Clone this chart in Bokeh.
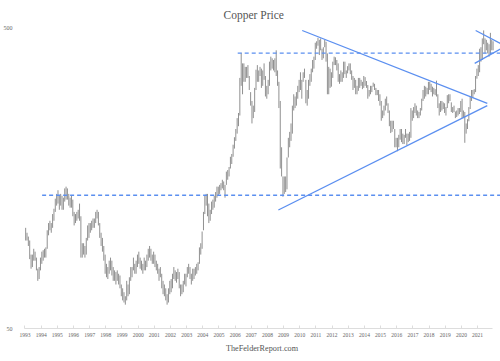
import numpy as np
from bokeh.plotting import figure
from bokeh.models import Range1d, FixedTicker, NumeralTickFormatter, Title
from bokeh.embed import file_html
from bokeh.resources import INLINE

# ---------------- data (cents per lb, monthly high / low) ----------------
start_year = 1993
monthly_high = [
    108, 104, 101, 98, 88, 88, 92, 90, 86, 79, 80, 86,          # 1993
    90, 91, 92, 93, 106, 112, 114, 112, 120, 125, 135, 140,     # 1994
    144, 138, 140, 138, 136, 146, 148, 146, 140, 136, 138, 134, # 1995
    122, 120, 122, 124, 130, 118, 96, 96, 94, 100, 110, 112,    # 1996
    112, 114, 116, 116, 122, 124, 122, 112, 104, 100, 94, 88,   # 1997
    82, 80, 84, 86, 84, 80, 78, 77, 78, 76, 75, 70,             # 1998
    68, 66, 64, 72, 70, 74, 80, 80, 86, 82, 84, 88,             # 1999
    90, 86, 84, 82, 86, 84, 88, 92, 94, 92, 88, 90,             # 2000
    88, 84, 82, 79, 80, 76, 72, 70, 68, 65, 68, 72,             # 2001
    73, 76, 80, 78, 77, 79, 77, 70, 70, 72, 76, 76,             # 2002
    80, 82, 80, 76, 79, 79, 80, 82, 83, 93, 96, 105,            # 2003
    122, 138, 140, 140, 130, 124, 132, 134, 138, 142, 148, 148, # 2004
    150, 152, 156, 154, 150, 166, 168, 172, 186, 190, 204, 216, # 2005
    230, 250, 260, 340, 412, 380, 380, 370, 370, 375, 345, 305, # 2006
    285, 275, 315, 362, 375, 360, 370, 365, 360, 380, 345, 320, # 2007
    335, 385, 400, 395, 390, 395, 420, 360, 330, 285, 200, 160, # 2008
    160, 160, 185, 215, 225, 240, 275, 300, 295, 305, 320, 335, # 2009
    355, 335, 355, 365, 335, 310, 335, 350, 365, 390, 400, 445, # 2010
    450, 462, 455, 460, 425, 430, 455, 448, 410, 370, 365, 355, # 2011
    385, 400, 398, 390, 380, 350, 360, 355, 385, 385, 360, 372, # 2012
    380, 380, 360, 345, 340, 335, 320, 340, 340, 335, 330, 345, # 2013
    342, 332, 322, 310, 320, 320, 328, 325, 315, 310, 310, 300, # 2014
    285, 265, 275, 290, 295, 280, 265, 245, 245, 245, 230, 215, # 2015
    215, 220, 230, 230, 222, 220, 230, 222, 222, 225, 270, 265, # 2016
    272, 280, 275, 265, 262, 270, 290, 310, 320, 318, 315, 330, # 2017
    330, 325, 318, 315, 312, 333, 300, 280, 285, 285, 282, 280, # 2018
    272, 298, 300, 300, 282, 272, 275, 263, 265, 270, 270, 285, # 2019
    290, 265, 262, 240, 248, 272, 295, 310, 310, 312, 345, 365, # 2020
    375, 425, 430, 460, 489, 460, 455, 445, 440, 480, 455, 450, # 2021
]
monthly_low = [
    98, 98, 94, 85, 79, 80, 84, 84, 78, 72, 73, 78,             # 1993
    82, 84, 86, 86, 92, 102, 106, 104, 108, 114, 122, 128,      # 1994
    130, 124, 128, 124, 124, 132, 134, 134, 128, 126, 126, 118, # 1995
    110, 112, 114, 116, 114, 86, 86, 88, 86, 88, 98, 100,       # 1996
    104, 106, 108, 108, 112, 116, 110, 100, 94, 90, 84, 76,     # 1997
    74, 73, 76, 78, 75, 72, 72, 70, 72, 70, 68, 64,             # 1998
    62, 61, 60, 62, 64, 65, 72, 74, 78, 76, 76, 80,             # 1999
    82, 79, 78, 76, 78, 78, 80, 84, 86, 84, 82, 82,             # 2000
    80, 78, 76, 72, 74, 68, 65, 64, 62, 60, 61, 65,             # 2001
    66, 68, 73, 72, 71, 73, 68, 64, 65, 66, 70, 69,             # 2002
    74, 76, 73, 70, 72, 73, 75, 76, 78, 82, 88, 92,             # 2003
    106, 120, 128, 118, 112, 114, 120, 124, 126, 132, 136, 138, # 2004
    140, 144, 146, 144, 136, 150, 156, 160, 170, 176, 186, 198, # 2005
    210, 222, 235, 255, 320, 300, 330, 330, 340, 340, 310, 275, # 2006
    240, 250, 262, 310, 330, 330, 345, 315, 320, 335, 295, 290, # 2007
    300, 320, 360, 365, 360, 355, 345, 320, 270, 170, 160, 137, # 2008
    140, 142, 145, 185, 200, 210, 222, 265, 270, 275, 290, 305, # 2009
    310, 290, 330, 340, 280, 275, 290, 320, 330, 355, 365, 390, # 2010
    425, 435, 405, 420, 390, 395, 430, 385, 300, 300, 315, 318, # 2011
    340, 375, 375, 360, 330, 325, 330, 330, 340, 350, 340, 352, # 2012
    360, 350, 335, 310, 315, 300, 300, 308, 315, 320, 312, 315, # 2013
    320, 315, 290, 295, 300, 305, 318, 310, 298, 298, 285, 275, # 2014
    245, 250, 255, 265, 275, 260, 235, 223, 225, 230, 200, 200, # 2015
    194, 200, 212, 208, 205, 205, 215, 203, 208, 210, 215, 245, # 2016
    250, 260, 255, 250, 250, 255, 265, 285, 290, 295, 300, 300, # 2017
    310, 305, 295, 300, 298, 295, 270, 255, 262, 265, 268, 260, # 2018
    255, 270, 280, 285, 262, 260, 262, 250, 252, 255, 258, 262, # 2019
    250, 250, 207, 222, 230, 244, 268, 285, 292, 300, 305, 338, # 2020
    345, 355, 385, 390, 440, 410, 420, 410, 400, 405, 420, 420, # 2021
]
year_ticks = list(range(1993, 2022))
price_ticks = [50, 500]

# horizontal levels (dashed)
resistance_level = 411
resistance_from = 2006.16
support_level = 138.5
support_from = 1994.06
chart_start = 1992.908
chart_end = 2022.417

# trend lines: (dates, prices)
falling_line_t = [2010.15, 2021.60]
falling_line_v = [488.6, 280.0]
rising_line_t = [2008.675, 2021.60]
rising_line_v = [123.8, 275.0]
pennant_top_t = [2020.88, 2022.417]
pennant_top_v = [488.6, 442.0]
pennant_bottom_t = [2020.82, 2022.417]
pennant_bottom_v = [380.0, 424.0]

# ---------------- figure ----------------
t = start_year + (np.arange(len(monthly_high)) + 0.5) / 12.0
serif = "Liberation Serif"

p = figure(width=500, height=361,
           x_range=Range1d(chart_start, chart_end), y_range=Range1d(50, 500),
           y_axis_type="log", output_backend="svg", toolbar_location=None,
           min_border_left=19, min_border_right=0, min_border_top=27, min_border_bottom=33)
p.title = Title(text="Copper Price", align="left", offset=200, standoff=13,
                text_font=serif, text_font_size="11.5px", text_font_style="normal",
                text_color="#555555")
p.grid.visible = False
p.outline_line_color = None
p.background_fill_color = "white"
p.border_fill_color = "white"

p.xaxis.ticker = FixedTicker(ticks=year_ticks)
p.xaxis.bounds = (1993.0, 2021.9)
p.xaxis.axis_line_color = "#dddddd"
p.xaxis.major_tick_line_color = "#dddddd"
p.xaxis.major_tick_in = 3
p.xaxis.major_tick_out = 0
p.xaxis.minor_tick_line_color = None
p.xaxis.major_label_standoff = 4
p.xaxis.major_label_text_font = serif
p.xaxis.major_label_text_font_size = "5.5px"
p.xaxis.major_label_text_color = "#666666"
p.xaxis.axis_label = "TheFelderReport.com"
p.xaxis.axis_label_standoff = 4
p.xaxis.axis_label_text_font = serif
p.xaxis.axis_label_text_font_size = "8.2px"
p.xaxis.axis_label_text_font_style = "normal"
p.xaxis.axis_label_text_color = "#555555"

p.yaxis.ticker = FixedTicker(ticks=price_ticks)
p.yaxis.formatter = NumeralTickFormatter(format="0")
p.yaxis.axis_line_color = None
p.yaxis.major_tick_line_color = None
p.yaxis.minor_tick_line_color = None
p.yaxis.major_label_standoff = 5
p.yaxis.major_label_text_font = serif
p.yaxis.major_label_text_font_size = "6px"
p.yaxis.major_label_text_color = "#666666"

# price bars
p.segment(x0=t, y0=monthly_low, x1=t, y1=monthly_high, line_color="#909090", line_width=1)

blue = "#5b8ff0"
p.line([resistance_from, chart_end], [resistance_level, resistance_level],
       line_color=blue, line_width=1.4, line_dash="4 3")
p.line([support_from, chart_end], [support_level, support_level],
       line_color=blue, line_width=1.4, line_dash="4 3")
for xs, ys in [(falling_line_t, falling_line_v), (rising_line_t, rising_line_v),
               (pennant_top_t, pennant_top_v), (pennant_bottom_t, pennant_bottom_v)]:
    p.line(xs, ys, line_color=blue, line_width=1.3)

open("out.html", "w").write(file_html(p, INLINE))
